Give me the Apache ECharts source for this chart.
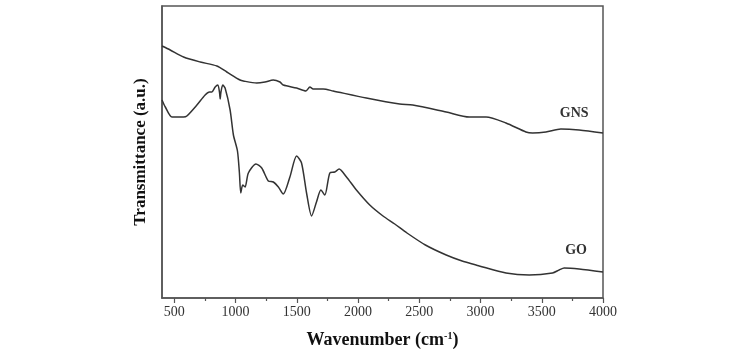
<!DOCTYPE html>
<html>
<head>
<meta charset="utf-8">
<script src="https://cdn.jsdelivr.net/npm/echarts@6/dist/echarts.min.js"></script>
<style>html,body{margin:0;padding:0;background:#fff;}#c{width:750px;height:357px;}</style>
</head>
<body>
<div id="c"></div>
<script>
// Data (y in arbitrary transmittance units)
const gnsWavenumber = [400,467,576,712,848,929,1037,1064,1173,1241,1308,1363,1390,1499,1575,1607,1634,1716,1797,2068,2340,2447,2720,2909,2950,3045,3208,3371,3425,3534,3656,3805,4000];
const gnsValues     = [252,248,241,236,232,226,218,217,215,216,218,216,213,210,207,211,209,209,207,200,194,193,186,181,181,181,175,166,165,166,169,168,165];

const goWavenumber = [400,427,481,576,603,685,752,788,807,834,856,870,875,880,896,915,956,983,1016,1032,1043,1059,1078,1105,1167,1214,1268,1309,1350,1390,1444,1499,1539,1580,1621,1661,1697,1729,1770,1810,1846,1906,1987,2096,2204,2300,2400,2550,2720,2850,2964,2990,3208,3398,3588,3642,3683,3805,4000];
const goValues     = [198,191,181,181,182,193,203,206,206,211,213,205,199,205,213,210,188,163,147,125,105,113,111,125,134,130,117,116,111,104,121,142,135,105,82,96,108,103,125,126,129,121,108,93,82,74,65,53,43,37,33,32,25,23,25,28,30,29,26];

const xTickLabels = [500,1000,1500,2000,2500,3000,3500,4000];
const xMinorTicks = [750,1250,1750,2250,2750,3250,3750];
const seriesNames = ['GNS','GO'];
const labelPos = {GNS:[3765,185], GO:[3780,48]};

const zip = (a,b) => a.map((v,i)=>[v,b[i]]);
const FONT = '"Liberation Serif","Times New Roman",serif';
const chart = echarts.init(document.getElementById('c'));
const lineStyle = {color:'#333', width:1.5};
chart.setOption({
  animation:false,
  backgroundColor:'#fff',
  grid:{left:162, right:147, top:6, bottom:59, show:true, borderColor:'#555', borderWidth:1.5},
  xAxis:[{
    type:'value', min:400, max:4000,
    name:'Wavenumber (cm{sup|-1})', nameLocation:'middle', nameGap:33,
    nameTextStyle:{fontFamily:FONT, fontWeight:'bold', fontSize:18, color:'#111',
      rich:{sup:{fontFamily:FONT, fontWeight:'bold', fontSize:10, verticalAlign:'top', padding:[0,0,8,0], color:'#111'}}},
    axisLine:{lineStyle:{color:'#555', width:1.5}},
    axisTick:{show:true, length:5, customValues:xTickLabels, lineStyle:{color:'#555', width:1.2}},
    axisLabel:{customValues:xTickLabels, formatter:v=>String(v), margin:7, fontFamily:FONT, fontSize:14, color:'#333'},
    splitLine:{show:false}
  },{
    type:'value', min:400, max:4000, position:'bottom',
    axisLine:{show:false},
    axisTick:{show:true, length:3, customValues:xMinorTicks, lineStyle:{color:'#555', width:1.2}},
    axisLabel:{show:false},
    splitLine:{show:false}
  }],
  yAxis:{
    type:'value', min:0, max:292,
    name:'Transmittance (a.u.)', nameLocation:'middle', nameGap:13,
    nameTextStyle:{fontFamily:FONT, fontWeight:'bold', fontSize:17, color:'#111'},
    axisLine:{show:true, lineStyle:{color:'#555', width:1.5}},
    axisTick:{show:false}, axisLabel:{show:false}, splitLine:{show:false}
  },
  series:[
    {name:seriesNames[0], type:'line', data:zip(gnsWavenumber,gnsValues), showSymbol:false, smooth:0.25, lineStyle,
     markPoint:{symbol:'circle', symbolSize:0, data:[{coord:labelPos.GNS, value:seriesNames[0]}],
       label:{show:true, formatter:seriesNames[0], fontFamily:FONT, fontWeight:'bold', fontSize:14, color:'#333'}}},
    {name:seriesNames[1], type:'line', data:zip(goWavenumber,goValues), showSymbol:false, smooth:0.25, lineStyle,
     markPoint:{symbol:'circle', symbolSize:0, data:[{coord:labelPos.GO, value:seriesNames[1]}],
       label:{show:true, formatter:seriesNames[1], fontFamily:FONT, fontWeight:'bold', fontSize:14, color:'#333'}}}
  ]
});
</script>
</body>
</html>
